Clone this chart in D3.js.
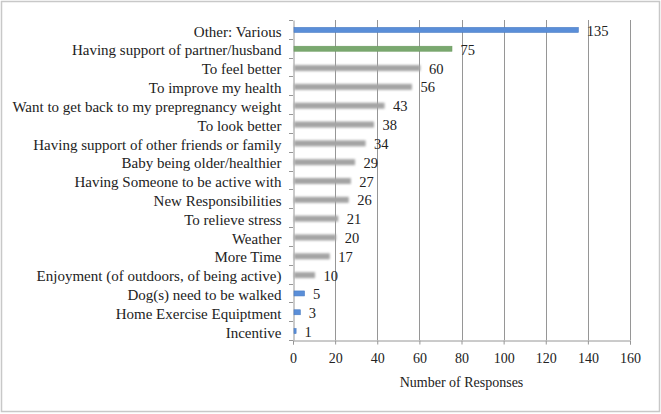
<!DOCTYPE html>
<html>
<head>
<meta charset="utf-8">
<script src="https://cdn.jsdelivr.net/npm/d3@7"></script>
<style>
body { margin: 0; background: #fff; }
svg { display: block; }
svg text { font-family: "Liberation Serif", "DejaVu Serif", "Times New Roman", serif !important; fill: #222; }
</style>
</head>
<body>
<div id="chart"></div>
<script>
var categories = ["Other: Various", "Having support of partner/husband", "To feel better", "To improve my health",
  "Want to get back to my prepregnancy weight", "To look better", "Having support of other friends or family",
  "Baby being older/healthier", "Having Someone to be active with", "New Responsibilities", "To relieve stress",
  "Weather", "More Time", "Enjoyment (of outdoors, of being active)", "Dog(s) need to be walked",
  "Home Exercise Equiptment", "Incentive"];
var responses = [135, 75, 60, 56, 43, 38, 34, 29, 27, 26, 21, 20, 17, 10, 5, 3, 1];
var barKind = ["blue", "green", "gray", "gray", "gray", "gray", "gray", "gray", "gray", "gray", "gray",
  "gray", "gray", "gray", "blue", "blue", "blue"];
var xTicks = [0, 20, 40, 60, 80, 100, 120, 140, 160];

var width = 661, height = 414;
var margin = {left: 293, right: 31, top: 20, bottom: 74};
var fontName = '"Liberation Serif", "DejaVu Serif", serif';

var svg = d3.select("#chart").append("svg")
  .attr("width", width)
  .attr("height", height)

var defs = svg.append("defs");
defs.append("filter").attr("id", "soft")
  .attr("x", "-10%").attr("y", "-100%").attr("width", "120%").attr("height", "300%")
  .append("feGaussianBlur").attr("stdDeviation", 1.2);

// outer frame
svg.append("rect")
  .attr("x", 1.5).attr("y", 1.5)
  .attr("width", width - 3).attr("height", height - 4)
  .attr("fill", "none").attr("stroke", "#c8c8c8").attr("stroke-width", 1.5);

var x = d3.scaleLinear().domain([0, 160]).range([margin.left, width - margin.right]);
var y = d3.scaleBand().domain(categories).range([margin.top, height - margin.bottom]);

// grid lines
svg.append("g").selectAll("line").data(xTicks.slice(1)).join("line")
  .attr("x1", d => Math.round(x(d)) + 0.5).attr("x2", d => Math.round(x(d)) + 0.5)
  .attr("y1", margin.top).attr("y2", height - margin.bottom)
  .attr("stroke", "#969696").attr("stroke-width", 1);

// x axis
var xAxis = svg.append("g")
  .attr("transform", "translate(0," + (height - margin.bottom + 0.5) + ")")
  .call(d3.axisBottom(x).tickValues(xTicks).tickSize(4).tickPadding(9));
xAxis.attr("font-family", fontName);
xAxis.select(".domain").attr("stroke", "#969696");
xAxis.selectAll(".tick line").attr("stroke", "#969696");
xAxis.selectAll("text").attr("font-size", 14).attr("fill", "#222");

// y axis
var yAxis = svg.append("g")
  .attr("transform", "translate(" + (margin.left + 0.5) + ",0)")
  .call(d3.axisLeft(y).tickSize(0).tickPadding(12));
yAxis.attr("font-family", fontName);
yAxis.select(".domain").attr("stroke", "#969696");
yAxis.selectAll("text").attr("font-size", 15).attr("fill", "#222")
  .attr("dy", "0.48em");
// band boundary ticks
svg.append("g").selectAll("line").data(d3.range(categories.length + 1)).join("line")
  .attr("x1", margin.left - 4).attr("x2", margin.left)
  .attr("y1", d => Math.round(margin.top + d * y.step()) + 0.5)
  .attr("y2", d => Math.round(margin.top + d * y.step()) + 0.5)
  .attr("stroke", "#969696");

var colorOf = {blue: "#5a8ed8", green: "#7aa86f", gray: "#a4a4a4"};
var barH = 5;

var bars = svg.append("g").selectAll("rect").data(responses).join("rect")
  .attr("x", x(0) + 1)
  .attr("y", (d, i) => y(categories[i]) + y.bandwidth() / 2 - barH / 2 + 0.5)
  .attr("width", d => x(d) - x(0))
  .attr("height", (d, i) => barKind[i] == "gray" ? barH + 1 : barH)
  .attr("fill", (d, i) => colorOf[barKind[i]])
  .attr("filter", (d, i) => barKind[i] == "gray" ? "url(#soft)" : null)
  .attr("stroke", (d, i) => barKind[i] == "blue" ? "#4a7cc4" : (barKind[i] == "green" ? "#6a9a60" : null))
  .attr("stroke-width", 0.6);

// value labels
svg.append("g").attr("font-family", fontName).selectAll("text").data(responses).join("text")
  .attr("x", d => x(d) + 9.5)
  .attr("y", (d, i) => y(categories[i]) + y.bandwidth() / 2 + 6.5)
  .attr("font-size", 14.5)
  .text(d => d);

// axis title
svg.append("text")
  .attr("font-family", fontName)
  .attr("x", x(80)).attr("y", 386.5)
  .attr("text-anchor", "middle")
  .attr("font-size", 14)
  .text("Number of Responses");
</script>
</body>
</html>
